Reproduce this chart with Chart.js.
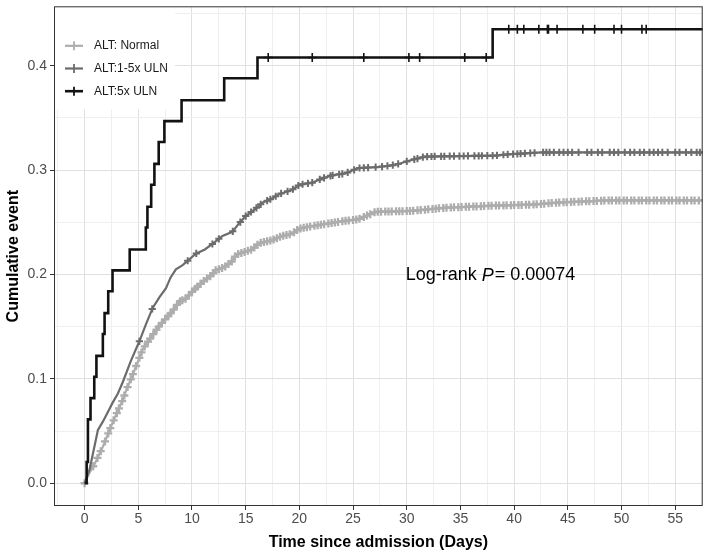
<!DOCTYPE html>
<html><head><meta charset="utf-8">
<style>html,body{margin:0;padding:0;background:#fff}#wrap{width:709px;height:554px}</style>
<script src="https://cdn.jsdelivr.net/npm/chart.js@4.4.1/dist/chart.umd.min.js"></script>
</head><body><div id="wrap"><canvas id="c" width="709" height="554"></canvas></div>
<script>
// ---------- data ----------
const groupLabels = ['ALT: Normal', 'ALT:1-5x ULN', 'ALT:5x ULN'];

// ALT: Normal (cumulative event curve)
const normalTimes = [0, 0.46, 1.0, 1.7, 2.6, 3.56, 3.87, 4.48, 5.4, 5.72, 6.96, 8.2, 8.8, 9.44, 10.05, 11.0, 11.9, 12.2, 13.0, 13.77, 14.1, 15.0, 15.6, 16.25, 17.5, 18.4, 19.3, 20.0, 21.0, 22.75, 24.0, 25.5, 27.1, 30.5, 33.6, 38.1, 41.7, 44.2, 48.8, 57.6];
const normalCum   = [0, 0.010, 0.020, 0.035, 0.058, 0.080, 0.089, 0.104, 0.128, 0.133, 0.151, 0.165, 0.174, 0.177, 0.184, 0.193, 0.200, 0.204, 0.207, 0.213, 0.219, 0.222, 0.224, 0.230, 0.233, 0.237, 0.239, 0.244, 0.246, 0.249, 0.251, 0.253, 0.260, 0.261, 0.264, 0.266, 0.267, 0.269, 0.271, 0.271];
const normalCensor = [0, 0.8, 1.2, 1.5, 1.9, 2.2, 2.4, 2.7, 3.0, 3.2, 3.5, 3.7, 4.0, 4.3, 4.5, 4.8, 5.1, 5.3, 5.6, 5.9, 6.1, 6.4, 6.7, 6.9, 7.2, 7.5, 7.8, 8.0, 8.3, 8.6, 8.9, 9.1, 9.4, 9.7, 10.0, 10.3, 10.5, 10.8, 11.1, 11.4, 11.7, 12.0, 12.2, 12.5, 12.8, 13.1, 13.4, 13.7, 14.0, 14.3, 14.6, 14.9, 15.2, 15.5, 15.8, 16.1, 16.4, 16.7, 17.0, 17.3, 17.6, 17.9, 18.2, 18.5, 18.8, 19.1, 19.5, 19.8, 20.1, 20.4, 20.7, 21.0, 21.4, 21.7, 22.0, 22.3, 22.7, 23.0, 23.3, 23.6, 24.0, 24.3, 24.6, 25.0, 25.3, 25.6, 26.0, 26.3, 26.6, 27.0, 27.3, 27.6, 28.0, 28.3, 28.6, 29.0, 29.3, 29.6, 30.0, 30.3, 30.6, 31.0, 31.3, 31.7, 32.0, 32.4, 32.7, 33.0, 33.4, 33.7, 34.1, 34.4, 34.8, 35.1, 35.5, 35.8, 36.2, 36.5, 36.9, 37.2, 37.6, 37.9, 38.3, 38.6, 39.0, 39.3, 39.7, 40.0, 40.4, 40.7, 41.1, 41.4, 41.8, 42.1, 42.5, 42.8, 43.2, 43.5, 43.9, 44.2, 44.6, 44.9, 45.3, 45.6, 46.0, 46.3, 46.7, 47.0, 47.4, 47.7, 48.1, 48.4, 48.8, 49.1, 49.5, 49.8, 50.2, 50.5, 50.9, 51.2, 51.6, 51.9, 52.3, 52.6, 53.0, 53.3, 53.7, 54.0, 54.4, 54.7, 55.1, 55.4, 55.8, 56.1, 56.5, 56.8, 57.2];

// ALT: 1-5x ULN
const midTimes = [0, 0.46, 1.24, 1.7, 2.3, 2.6, 3.1, 3.56, 4.3, 5.1, 5.7, 6.34, 6.96, 7.58, 8.0, 8.5, 9.13, 10.36, 11.2, 12.0, 12.84, 13.77, 14.3, 15.0, 15.9, 16.6, 17.5, 18.1, 19.3, 20.0, 21.2, 22.1, 23.05, 24.3, 25.5, 27.4, 28.9, 30.2, 31.7, 38.3, 39.2, 42.6, 57.6];
const midCum   = [0, 0.013, 0.051, 0.059, 0.071, 0.077, 0.086, 0.097, 0.117, 0.136, 0.152, 0.168, 0.178, 0.187, 0.197, 0.205, 0.209, 0.220, 0.224, 0.230, 0.237, 0.241, 0.248, 0.256, 0.263, 0.269, 0.273, 0.277, 0.281, 0.286, 0.288, 0.292, 0.295, 0.297, 0.302, 0.303, 0.305, 0.309, 0.313, 0.314, 0.315, 0.317, 0.317];
const midCensor = [5.1, 6.3, 9.6, 10.4, 11.9, 12.5, 13.8, 14.5, 15.0, 15.5, 16.0, 16.4, 17.0, 17.3, 17.8, 18.3, 18.9, 19.4, 19.9, 20.3, 20.8, 21.2, 21.9, 22.3, 22.9, 23.1, 23.7, 24.0, 24.5, 25.1, 25.6, 26.0, 26.4, 27.1, 27.7, 28.2, 28.7, 29.2, 30.0, 30.7, 31.0, 31.5, 31.9, 32.3, 32.6, 33.2, 33.5, 34.0, 34.4, 34.9, 35.3, 35.7, 36.3, 36.7, 37.0, 37.5, 38.0, 38.4, 39.0, 39.4, 39.9, 40.3, 40.6, 41.0, 41.5, 41.9, 42.7, 43.0, 43.3, 43.7, 44.2, 44.6, 45.0, 45.4, 46.0, 46.8, 47.2, 47.8, 48.2, 48.9, 49.3, 49.7, 50.3, 50.8, 51.2, 51.7, 52.1, 52.6, 53.0, 53.4, 53.8, 54.3, 55.0, 55.4, 56.0, 56.5, 57.0, 57.3];

// ALT: 5x ULN (step curve)
const highTimes = [0, 0.19, 0.31, 0.55, 0.9, 1.1, 1.7, 1.86, 2.2, 2.6, 4.2, 5.7, 5.85, 6.2, 6.5, 6.9, 7.43, 9.03, 13.0, 16.1, 38.0, 57.6];
const highCum   = [0, 0.0204, 0.0612, 0.0816, 0.102, 0.122, 0.143, 0.163, 0.184, 0.204, 0.224, 0.245, 0.265, 0.286, 0.306, 0.327, 0.347, 0.367, 0.388, 0.408, 0.435, 0.435];
const highCensor = [17.1, 21.2, 26.0, 30.2, 31.2, 35.4, 37.4, 39.5, 40.3, 40.9, 42.3, 43.1, 43.2, 44.0, 46.4, 47.5, 49.3, 50.0, 51.9, 52.3];

// axes
const xMajor = [0, 5, 10, 15, 20, 25, 30, 35, 40, 45, 50, 55];
const xMinor = [-2.5, 2.5, 7.5, 12.5, 17.5, 22.5, 27.5, 32.5, 37.5, 42.5, 47.5, 52.5, 57.5];
const yMajor = [0, 0.1, 0.2, 0.3, 0.4];
const yMinor = [0.05, 0.15, 0.25, 0.35, 0.45];
const xLimits = [-2.85, 57.56];
const yLimits = [-0.0218, 0.457];
const annotation = {x: 29.9, y: 0.2, pre: 'Log-rank ', p: 'P', post: '= 0.00074'};

// ---------- styles ----------
const colors = ['#adadad', '#6c6c6c', '#121212'];
const FONT = '"Liberation Sans", Arial, Helvetica, sans-serif';
Chart.defaults.font.family = FONT;

function curve(times, cum) { return times.map((t, i) => ({x: t, y: cum[i]})); }
// value of a step curve at time t
function stepAt(times, cum, t) {
  let v = 0;
  for (let i = 0; i < times.length; i++) { if (times[i] <= t) v = cum[i]; else break; }
  return v;
}
// position on the drawn (straight-segment) curve at time t
function pathAt(times, cum, t) {
  for (let i = 1; i < times.length; i++) {
    if (t <= times[i]) {
      const f = (t - times[i - 1]) / (times[i] - times[i - 1]);
      return cum[i - 1] + f * (cum[i] - cum[i - 1]);
    }
  }
  return cum[cum.length - 1];
}
const isMaj = (arr, v) => arr.some(m => Math.abs(m - v) < 1e-9);

const datasets = [
  {data: curve(highTimes, highCum), showLine: true, stepped: true, borderColor: colors[2], borderWidth: 2.6, pointRadius: 0, order: 1},
  {data: highCensor.map(t => ({x: t, y: stepAt(highTimes, highCum, t)})), showLine: false, pointStyle: 'cross', pointRadius: 4.5, pointBorderWidth: 1.6, pointBorderColor: colors[2], order: 0},
  {data: curve(midTimes, midCum), showLine: true, borderColor: colors[1], borderWidth: 2.2, pointRadius: 0, order: 3},
  {data: midCensor.map(t => ({x: t, y: pathAt(midTimes, midCum, t)})), showLine: false, pointStyle: 'cross', pointRadius: 3.6, pointBorderWidth: 2, pointBorderColor: colors[1], order: 2},
  {data: curve(normalTimes, normalCum), showLine: true, borderColor: colors[0], borderWidth: 2.2, pointRadius: 0, order: 5},
  {data: normalCensor.map(t => ({x: t, y: pathAt(normalTimes, normalCum, t)})), showLine: false, pointStyle: 'cross', pointRadius: 4, pointBorderWidth: 2.3, pointBorderColor: colors[0], order: 4}
];

const decor = {
  id: 'decor',
  afterDatasetsDraw(chart) {
    const {ctx, chartArea: a, scales: {x, y}} = chart;
    ctx.save();
    // legend box
    ctx.fillStyle = '#fff';
    ctx.fillRect(a.left, a.top, 121, 103);
    for (let i = 0; i < 3; i++) {
      const cy = a.top + 39.5 + i * 22.7;
      const c = colors[i];
      ctx.strokeStyle = c; ctx.lineWidth = i === 2 ? 2.6 : 2.2;
      ctx.beginPath(); ctx.moveTo(a.left + 11, cy); ctx.lineTo(a.left + 29, cy); ctx.stroke();
      ctx.lineWidth = 1.8;
      ctx.beginPath(); ctx.moveTo(a.left + 20, cy - 4.5); ctx.lineTo(a.left + 20, cy + 4.5); ctx.stroke();
      ctx.fillStyle = '#1a1a1a';
      ctx.font = '12px ' + FONT;
      ctx.textBaseline = 'middle'; ctx.textAlign = 'left';
      ctx.fillText(groupLabels[i], a.left + 40, cy);
    }
    // annotation
    let px = x.getPixelForValue(annotation.x);
    const py = y.getPixelForValue(annotation.y) + 1;
    ctx.fillStyle = '#000'; ctx.textBaseline = 'middle'; ctx.textAlign = 'left';
    ctx.font = '18px ' + FONT;
    ctx.fillText(annotation.pre, px, py); px += ctx.measureText(annotation.pre).width;
    ctx.font = 'italic 18px ' + FONT;
    ctx.fillText(annotation.p, px, py); px += ctx.measureText(annotation.p).width + 1;
    ctx.font = '18px ' + FONT;
    ctx.fillText(annotation.post, px, py);
    // panel border
    ctx.strokeStyle = '#333'; ctx.lineWidth = 1;
    ctx.strokeRect(a.left + 0.5, a.top + 0.5, a.right - a.left - 1, a.bottom - a.top - 1);
    ctx.restore();
  }
};

new Chart(document.getElementById('c'), {
  type: 'scatter',
  data: {datasets},
  plugins: [decor],
  options: {
    responsive: false, animation: false, devicePixelRatio: 1,
    layout: {padding: {left: 0, right: 5, top: 4, bottom: 0}},
    plugins: {legend: {display: false}, tooltip: {enabled: false}},
    elements: {line: {tension: 0}},
    scales: {
      x: {
        type: 'linear', min: xLimits[0], max: xLimits[1],
        afterBuildTicks(s) { s.ticks = [...xMinor, ...xMajor].filter(v => v >= xLimits[0] && v <= xLimits[1]).sort((a, b) => a - b).map(v => ({value: v})); },
        afterFit(s) { s.height = 48; s.paddingLeft = 0; s.paddingRight = 0; },
        ticks: {autoSkip: false, maxRotation: 0, padding: 1, color: '#4d4d4d', font: {size: 14},
          callback: v => isMaj(xMajor, v) ? String(v) : ''},
        grid: {color: c => isMaj(xMajor, c.tick.value) ? '#e0e0e0' : '#efefef', lineWidth: 1,
          tickColor: c => isMaj(xMajor, c.tick.value) ? '#333' : 'rgba(0,0,0,0)', tickLength: 4},
        border: {display: false},
        title: {display: true, text: 'Time since admission (Days)', color: '#000', font: {size: 16, weight: 'bold'}, padding: {top: 0, bottom: 1.5}}
      },
      y: {
        type: 'linear', min: yLimits[0], max: yLimits[1],
        afterBuildTicks(s) { s.ticks = [...yMajor, ...yMinor].filter(v => v >= yLimits[0] && v <= yLimits[1]).sort((a, b) => a - b).map(v => ({value: v})); },
        afterFit(s) { s.width = 54; s.paddingTop = 0; s.paddingBottom = 0; },
        ticks: {autoSkip: false, padding: 3, color: '#4d4d4d', font: {size: 14},
          callback: v => isMaj(yMajor, v) ? v.toFixed(1) : ''},
        grid: {color: c => isMaj(yMajor, c.tick.value) ? '#e0e0e0' : '#efefef', lineWidth: 1,
          tickColor: c => isMaj(yMajor, c.tick.value) ? '#333' : 'rgba(0,0,0,0)', tickLength: 4},
        border: {display: false},
        title: {display: true, text: 'Cumulative event', color: '#000', font: {size: 16, weight: 'bold'}, padding: {top: 3.5, bottom: 0}}
      }
    }
  }
});
</script>
</body></html>
